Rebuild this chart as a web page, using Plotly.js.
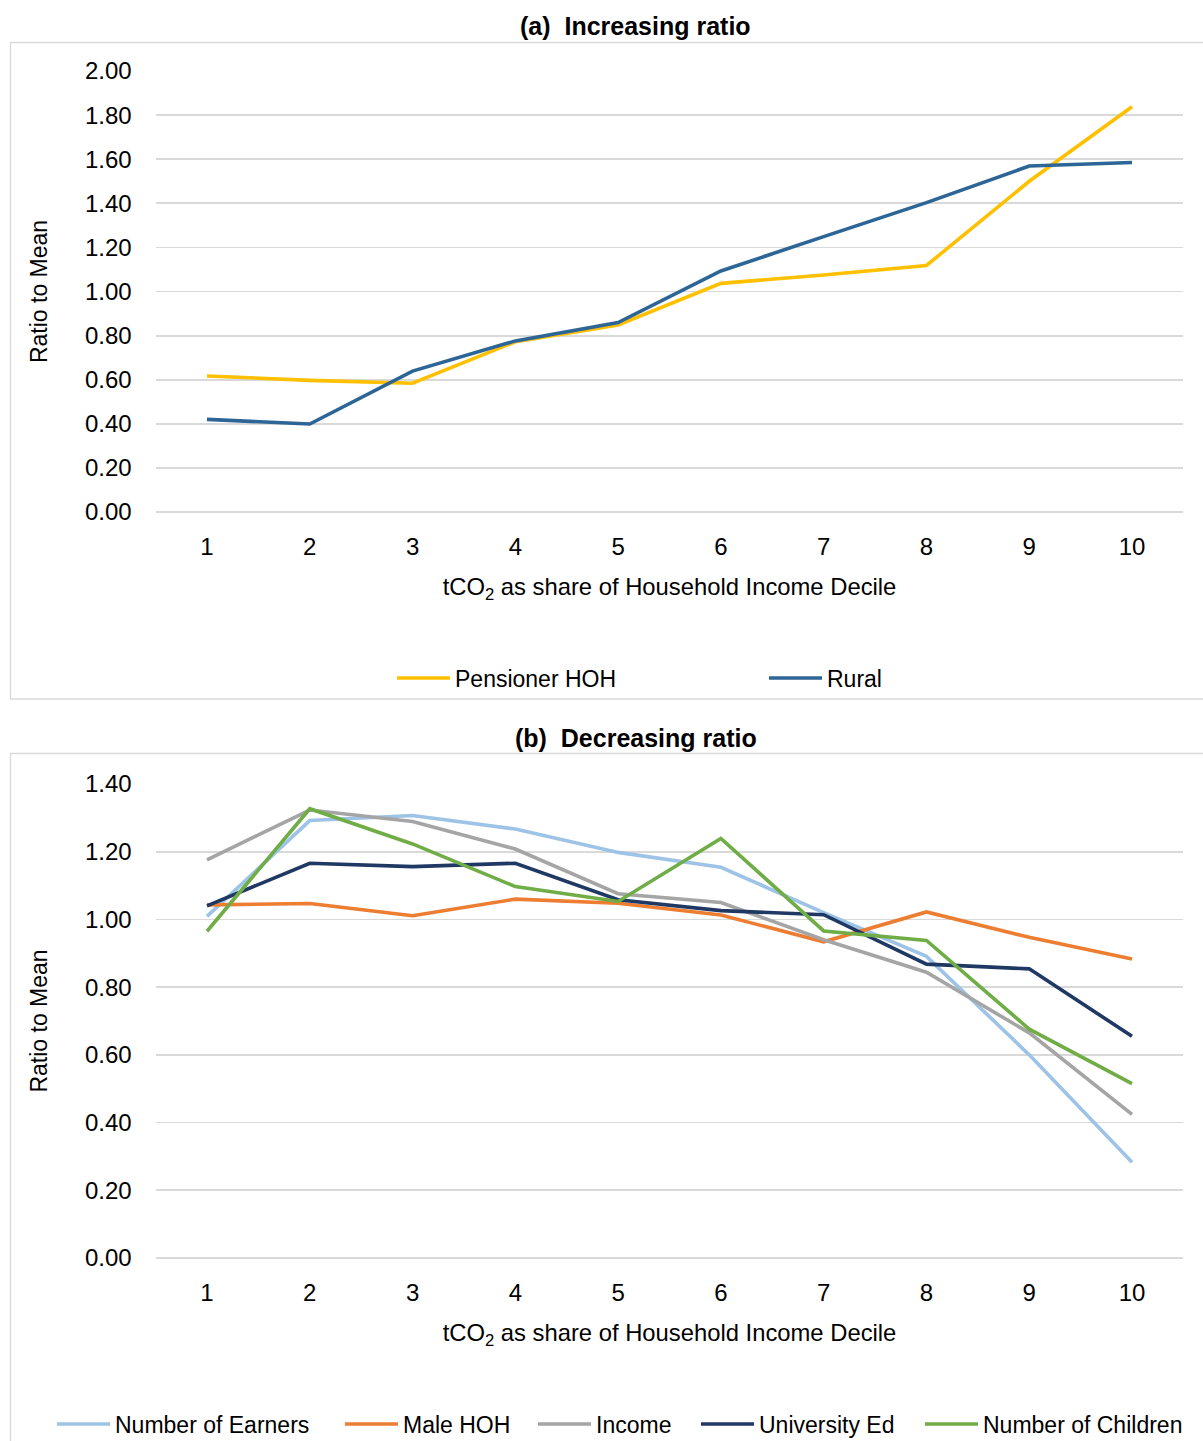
<!DOCTYPE html>
<html>
<head>
<meta charset="utf-8">
<script src="https://cdn.plot.ly/plotly-3.0.1.min.js"></script>
<style>html,body{margin:0;padding:0;background:#fff;}#chart{width:1203px;height:1441px;}</style>
</head>
<body>
<div id="chart"></div>
<script>
// ---- data ----
const deciles = ['1','2','3','4','5','6','7','8','9','10'];

const pensionerHOH = [0.617, 0.597, 0.584, 0.772, 0.848, 1.037, 1.075, 1.118, 1.500, 1.838];
const rural        = [0.420, 0.399, 0.639, 0.776, 0.859, 1.093, 1.249, 1.403, 1.569, 1.585];

const numberOfEarners  = [1.009, 1.292, 1.307, 1.267, 1.198, 1.154, 1.020, 0.891, 0.600, 0.283];
const maleHOH          = [1.043, 1.047, 1.011, 1.060, 1.048, 1.013, 0.934, 1.022, 0.947, 0.883];
const income           = [1.176, 1.323, 1.289, 1.208, 1.076, 1.050, 0.940, 0.844, 0.665, 0.424];
const universityEd     = [1.040, 1.166, 1.156, 1.166, 1.058, 1.026, 1.014, 0.868, 0.854, 0.655];
const numberOfChildren = [0.965, 1.327, 1.223, 1.097, 1.053, 1.239, 0.966, 0.938, 0.676, 0.515];

const titleA = '(a)\u00A0 Increasing ratio';
const titleB = '(b)\u00A0 Decreasing ratio';
const xTitle = 'tCO<sub>2</sub> as share of Household Income Decile';
const yTitle = 'Ratio to Mean';

// ---- layout helpers (pixel -> paper) ----
const W = 1203, H = 1441;
const px = v => v / W;
const py = v => 1 - v / H;

const FONT = 'Liberation Sans, Arial, sans-serif';
const FS = 23;
const GRID = '#D9D9D9';

function line(x, y, name, color, xa, ya, leg) {
  return {x: x, y: y, name: name, type: 'scatter', mode: 'lines',
          xaxis: xa, yaxis: ya, legend: leg, showlegend: true,
          line: {color: color, width: 3.6}};
}

const data = [
  line(deciles, pensionerHOH, 'Pensioner HOH', '#FFC000', 'x', 'y', 'legend'),
  line(deciles, rural, 'Rural', '#2C6596', 'x', 'y', 'legend2'),
  line(deciles, numberOfEarners, 'Number of Earners', '#9DC3E6', 'x2', 'y2', 'legend3'),
  line(deciles, maleHOH, 'Male HOH', '#ED7D31', 'x2', 'y2', 'legend4'),
  line(deciles, income, 'Income', '#A5A5A5', 'x2', 'y2', 'legend5'),
  line(deciles, universityEd, 'University Ed', '#203864', 'x2', 'y2', 'legend6'),
  line(deciles, numberOfChildren, 'Number of Children', '#70AD47', 'x2', 'y2', 'legend7')
];

const xDomain = [px(155.6), px(1183.4)];

function xaxis(anchor) {
  return {domain: xDomain, anchor: anchor, type: 'category', range: [-0.5, 9.5],
          showgrid: false, zeroline: false, showline: false, ticks: '',
          ticklabelstandoff: 18,
          tickfont: {family: FONT, size: 24, color: '#000'},
          title: {text: xTitle, font: {family: FONT, size: 23.8, color: '#000'}, standoff: 19}};
}
function yaxis(anchor, dom, top) {
  return {domain: dom, anchor: anchor, range: [0, top], dtick: 0.2, tick0: 0,
          tickformat: '.2f', showgrid: true, gridcolor: GRID, gridwidth: 1.8,
          zeroline: true, zerolinecolor: GRID, zerolinewidth: 1.8,
          showline: false, ticks: '', ticklabelstandoff: 23,
          tickfont: {family: FONT, size: 24, color: '#000'},
          title: {text: yTitle, font: {family: FONT, size: FS, color: '#000'}, standoff: 30}};
}

function legendAt(xPix, yPix) {
  return {x: px(xPix), y: py(yPix), xanchor: 'left', yanchor: 'middle',
          orientation: 'h', bgcolor: 'rgba(0,0,0,0)', borderwidth: 0, visible: true,
          font: {family: FONT, size: FS, color: '#000'}, itemwidth: 53};
}

const layout = {
  width: W, height: H,
  margin: {l: 0, r: 0, t: 0, b: 0, autoexpand: false},
  paper_bgcolor: '#fff', plot_bgcolor: '#fff',
  showlegend: true,
  font: {family: FONT, size: FS, color: '#000'},
  xaxis: xaxis('y'),
  yaxis: yaxis('x', [py(512), py(71)], 2.0),
  xaxis2: xaxis('y2'),
  yaxis2: yaxis('x2', [py(1258), py(784)], 1.4),
  legend: legendAt(392, 678),
  legend2: legendAt(764, 678),
  legend3: legendAt(52, 1424),
  legend4: legendAt(340, 1424),
  legend5: legendAt(533, 1424),
  legend6: legendAt(696, 1424),
  legend7: legendAt(920, 1424),
  shapes: [
    {type: 'rect', xref: 'paper', yref: 'paper', x0: px(10.5), x1: 1.01, y0: py(699), y1: py(42.5),
     line: {color: GRID, width: 1.3}, fillcolor: 'rgba(0,0,0,0)', layer: 'below'},
    {type: 'rect', xref: 'paper', yref: 'paper', x0: px(10.5), x1: 1.01, y0: -0.01, y1: py(753.5),
     line: {color: GRID, width: 1.3}, fillcolor: 'rgba(0,0,0,0)', layer: 'below'}
  ],
  annotations: [
    {text: '<b>' + titleA + '</b>', xref: 'paper', yref: 'paper', x: px(635), y: py(26),
     xanchor: 'center', yanchor: 'middle', showarrow: false, font: {family: FONT, size: 25, color: '#000'}},
    {text: '<b>' + titleB + '</b>', xref: 'paper', yref: 'paper', x: px(636), y: py(738),
     xanchor: 'center', yanchor: 'middle', showarrow: false, font: {family: FONT, size: 25, color: '#000'}}
  ]
};

Plotly.newPlot('chart', data, layout, {displayModeBar: false, staticPlot: true});
</script>
</body>
</html>
